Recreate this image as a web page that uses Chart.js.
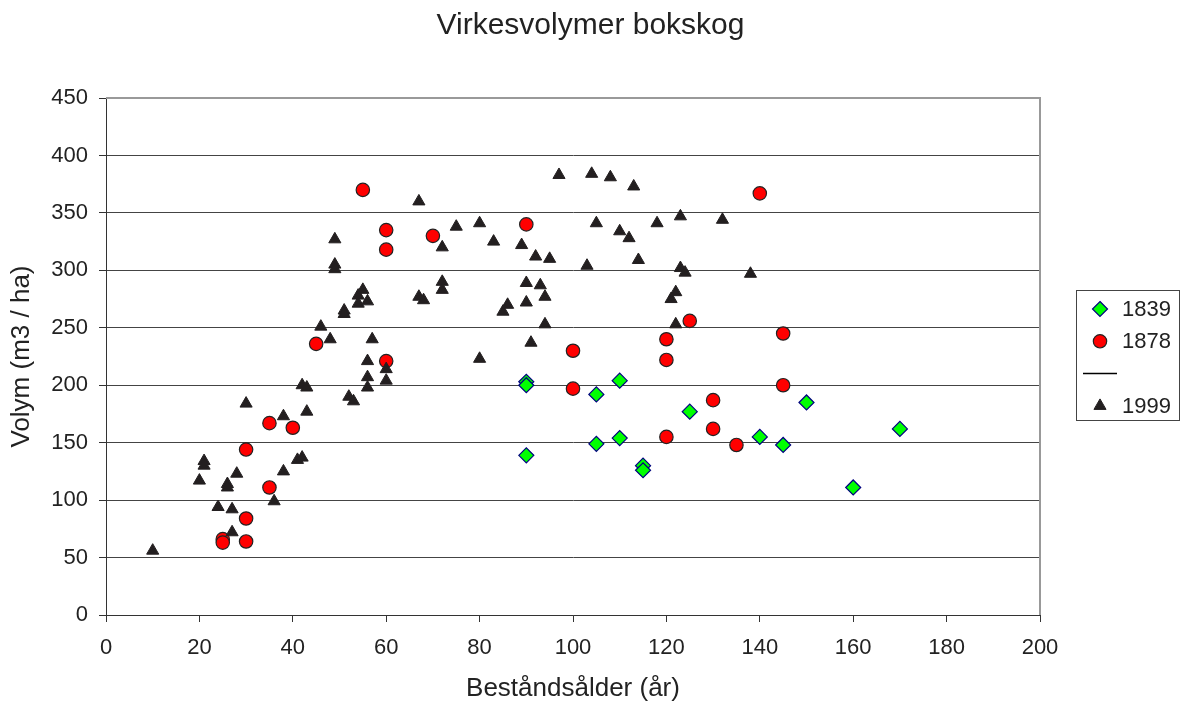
<!DOCTYPE html>
<html>
<head>
<meta charset="utf-8">
<script src="https://cdn.jsdelivr.net/npm/chart.js@4"></script>
<style>
  body { margin: 0; background: #fff; }
</style>
</head>
<body>
<canvas id="chart" width="1181" height="702"></canvas>
<script>
const seriesLabels = ['1839', '1878', '', '1999'];

const age1839 = [90, 90, 90, 105, 105, 110, 110, 115, 115, 125, 140, 145, 150, 160, 170];
const vol1839 = [203, 200, 139, 192, 149, 204, 154, 130, 126, 177, 155, 148, 185, 111, 162];

const age1878 = [25, 25, 30, 30, 30, 35, 35, 40, 45, 55, 60, 60, 60, 70, 90, 100, 100, 120, 120, 120, 125, 130, 130, 135, 140, 145, 145];
const vol1878 = [66, 63, 144, 84, 64, 167, 111, 163, 236, 370, 335, 318, 221, 330, 340, 230, 197, 240, 222, 155, 256, 187, 162, 148, 367, 245, 200];

const age1999 = [10, 20, 21, 21, 24, 26, 26, 27, 27, 28, 30, 36, 38, 38, 41, 42, 42, 43, 43, 46, 48, 49, 49, 49,
  51, 51, 52, 53, 54, 55, 54, 56, 56, 56, 56, 57, 60, 60, 67, 67, 68, 72, 72, 72, 75, 80, 80, 83, 85, 86,
  89, 90, 90, 91, 92, 93, 94, 94, 95, 97, 103, 104, 105, 108, 110, 112, 113, 114, 118, 121, 122, 122, 123, 123, 124, 132, 138];
const vol1999 = [56, 117, 134, 130, 94, 114, 111, 92, 72, 123, 184, 99, 125, 173, 135, 137, 200, 198, 177, 251, 240, 327, 305, 301,
  265, 262, 190, 186, 278, 283, 271, 273, 221, 207, 198, 240, 214, 204, 360, 277, 274, 320, 290, 283, 338, 341, 223, 325, 264, 270,
  322, 289, 272, 237, 312, 287, 277, 253, 310, 383, 304, 384, 341, 381, 334, 328, 373, 309, 341, 275, 281, 253, 347, 302, 298, 344, 297];

const xTicks = [0, 20, 40, 60, 80, 100, 120, 140, 160, 180, 200];
const yTicks = [0, 50, 100, 150, 200, 250, 300, 350, 400, 450];

function toPoints(xs, ys) {
  return xs.map((x, i) => ({ x: x, y: ys[i] }));
}

const FONT = "'Liberation Sans', Arial, sans-serif";

function drawMarker(ctx, style, r, x, y) {
  ctx.beginPath();
  if (style === 'rectRot') {
    ctx.moveTo(x, y - r);
    ctx.lineTo(x + r, y);
    ctx.lineTo(x, y + r);
    ctx.lineTo(x - r, y);
    ctx.closePath();
  } else if (style === 'triangle') {
    ctx.moveTo(x, y - r);
    ctx.lineTo(x + r * 0.866, y + r * 0.5);
    ctx.lineTo(x - r * 0.866, y + r * 0.5);
    ctx.closePath();
  } else {
    ctx.arc(x, y, r, 0, Math.PI * 2);
  }
  ctx.fill();
  ctx.stroke();
}

// plot area frame (grey top and right edge, as in Excel)
const frame = {
  id: 'frame',
  beforeDatasetsDraw(chart) {
    const { ctx, chartArea: a } = chart;
    ctx.save();
    ctx.strokeStyle = '#999';
    ctx.lineWidth = 2;
    ctx.beginPath();
    ctx.moveTo(a.left, a.top);
    ctx.lineTo(a.right, a.top);
    ctx.lineTo(a.right, a.bottom);
    ctx.stroke();
    ctx.restore();
  }
};

// boxed legend on the right
const boxLegend = {
  id: 'boxLegend',
  afterDraw(chart) {
    const ctx = chart.ctx;
    const ds = chart.data.datasets;
    ctx.save();
    ctx.strokeStyle = '#444';
    ctx.lineWidth = 1;
    ctx.strokeRect(1076.5, 290.5, 103, 130);
    ctx.font = '22px ' + FONT;
    ctx.textBaseline = 'middle';
    ctx.textAlign = 'left';
    ds.forEach((d, i) => {
      const y = 309 + i * 32.3;
      if (d.showLine) {
        ctx.strokeStyle = d.borderColor;
        ctx.lineWidth = 1.5;
        ctx.beginPath();
        ctx.moveTo(1083, y);
        ctx.lineTo(1117, y);
        ctx.stroke();
      } else {
        ctx.fillStyle = d.backgroundColor;
        ctx.strokeStyle = d.borderColor;
        ctx.lineWidth = d.borderWidth;
        drawMarker(ctx, d.pointStyle, d.pointRadius, 1100, y);
      }
      ctx.fillStyle = '#222';
      ctx.fillText(d.label, 1122, y + 1);
    });
    ctx.restore();
  }
};

new Chart(document.getElementById('chart').getContext('2d'), {
  type: 'scatter',
  data: {
    datasets: [
      {
        label: seriesLabels[0],
        data: toPoints(age1839, vol1839),
        pointStyle: 'rectRot',
        pointRadius: 7.5,
        backgroundColor: '#00ff00',
        borderColor: '#000080',
        borderWidth: 1.2,
        order: 2
      },
      {
        label: seriesLabels[1],
        data: toPoints(age1878, vol1878),
        pointStyle: 'circle',
        pointRadius: 6.7,
        backgroundColor: '#ff0000',
        borderColor: '#222',
        borderWidth: 1.2,
        order: 1
      },
      {
        label: seriesLabels[2],
        data: [],
        showLine: true,
        borderColor: '#000',
        borderWidth: 1.5,
        pointRadius: 0,
        order: 3
      },
      {
        label: seriesLabels[3],
        data: toPoints(age1999, vol1999),
        pointStyle: 'triangle',
        pointRadius: 7,
        backgroundColor: '#231f20',
        borderColor: '#231f20',
        borderWidth: 1,
        order: 0
      }
    ]
  },
  options: {
    responsive: false,
    animation: false,
    layout: { padding: 0 },
    plugins: {
      legend: { display: false },
      tooltip: { enabled: false },
      title: {
        display: true,
        text: 'Virkesvolymer bokskog',
        color: '#222',
        font: { family: FONT, size: 30, weight: 'normal', lineHeight: 1.2 },
        padding: { top: 8, bottom: 54 }
      }
    },
    scales: {
      x: {
        type: 'linear',
        min: 0,
        max: 200,
        afterBuildTicks: s => { s.ticks = xTicks.map(v => ({ value: v })); },
        afterFit: s => { s.height = 87; },
        grid: { drawOnChartArea: false, drawTicks: true, tickLength: 7, color: '#333', tickColor: '#333' },
        border: { color: '#333', width: 1 },
        ticks: { color: '#222', padding: 13, maxRotation: 0, font: { family: FONT, size: 22 } },
        title: {
          display: true,
          text: 'Beståndsålder (år)',
          color: '#222',
          font: { family: FONT, size: 26, lineHeight: 1 },
          padding: { top: 0, bottom: 0 }
        }
      },
      y: {
        type: 'linear',
        min: 0,
        max: 450,
        afterBuildTicks: s => { s.ticks = yTicks.map(v => ({ value: v })); },
        afterFit: s => { s.width = 106; },
        grid: { color: '#444', tickColor: '#333', tickLength: 7, lineWidth: 1 },
        border: { color: '#333', width: 1 },
        ticks: { color: '#222', padding: 11, font: { family: FONT, size: 22 } },
        title: {
          display: true,
          text: 'Volym (m3 / ha)',
          color: '#222',
          font: { family: FONT, size: 26, lineHeight: 1 },
          padding: { top: 9, bottom: 0 }
        }
      },
      spacer: {
        type: 'linear',
        position: 'right',
        display: true,
        grid: { display: false },
        border: { display: false },
        ticks: { display: false },
        afterFit: s => { s.width = 141; }
      }
    }
  },
  plugins: [frame, boxLegend]
});
</script>
</body>
</html>
